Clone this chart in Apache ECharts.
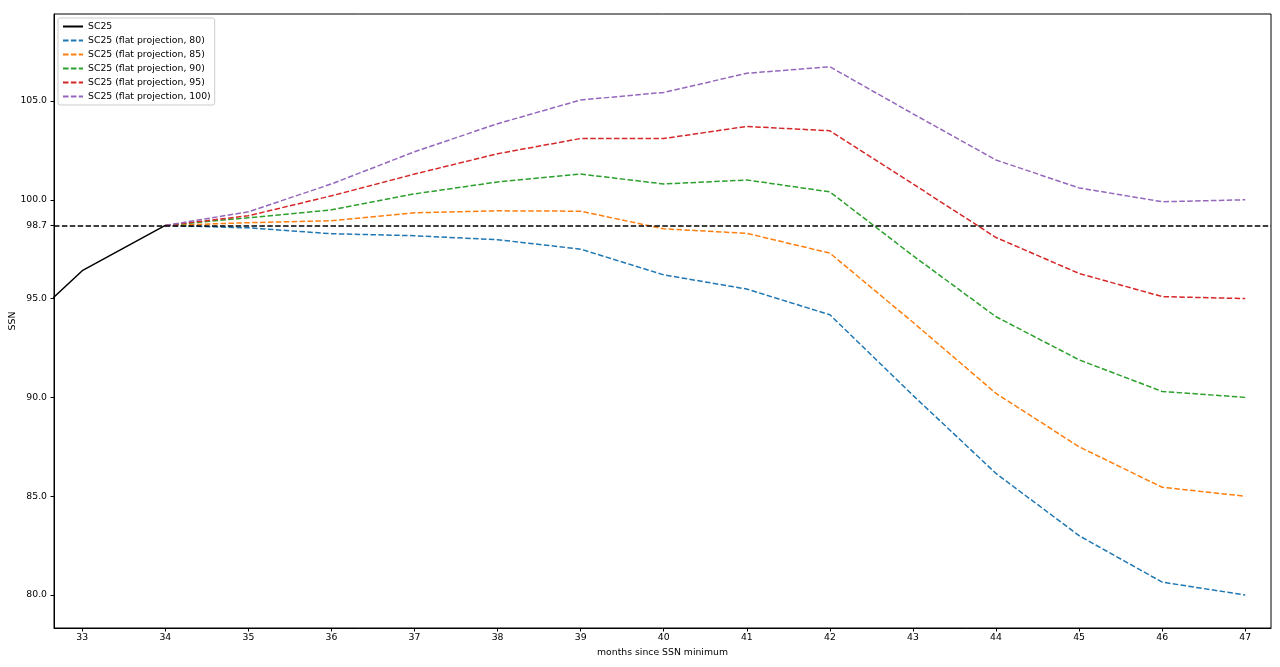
<!DOCTYPE html>
<html>
<head>
<meta charset="utf-8">
<script src="https://cdn.jsdelivr.net/npm/echarts@6/dist/echarts.min.js"></script>
<style>html,body{margin:0;padding:0;background:#fff}#c{width:1280px;height:667px}</style>
</head>
<body>
<div id="c"></div>
<script>
const sc25Months = [32, 33, 34];
const sc25Values = [92.5, 96.41, 98.7];
const projMonths = [34, 35, 36, 37, 38, 39, 40, 41, 42, 43, 44, 45, 46, 47];
const proj80  = [98.7, 98.58, 98.28, 98.18, 97.98, 97.5, 96.2, 95.48, 94.18, 90.1, 86.15, 83.0, 80.65, 80.0];
const proj85  = [98.7, 98.84, 98.94, 99.34, 99.44, 99.42, 98.53, 98.3, 97.3, 93.8, 90.2, 87.5, 85.45, 85.0];
const proj90  = [98.7, 99.09, 99.49, 100.3, 100.9, 101.3, 100.8, 101.0, 100.4, 97.17, 94.08, 91.9, 90.3, 90.0];
const proj95  = [98.7, 99.19, 100.2, 101.3, 102.33, 103.1, 103.1, 103.71, 103.49, 100.8, 98.09, 96.27, 95.1, 95.0];
const proj100 = [98.7, 99.39, 100.8, 102.43, 103.85, 105.05, 105.43, 106.4, 106.73, 104.35, 102.01, 100.6, 99.9, 100.0];
const refLevel = 98.7;
const xTicks = [33, 34, 35, 36, 37, 38, 39, 40, 41, 42, 43, 44, 45, 46, 47];
const yTicks = [80, 85, 90, 95, 98.7, 100, 105];
const projNames = ['SC25 (flat projection, 80)', 'SC25 (flat projection, 85)', 'SC25 (flat projection, 90)', 'SC25 (flat projection, 95)', 'SC25 (flat projection, 100)'];
const projData = [proj80, proj85, proj90, proj95, proj100];
const colors = ['#1f77b4', '#ff7f0e', '#2ca02c', '#d62728', '#9467bd'];

const font = 'DejaVu Sans';
const fs = 9.3;
const chart = echarts.init(document.getElementById('c'));
const zip = (xs, ys) => xs.map((x, i) => [x, ys[i]]);

const series = [{
  name: 'SC25', type: 'line', data: zip(sc25Months, sc25Values),
  showSymbol: false, symbol: 'none', color: '#000',
  lineStyle: { color: '#000', width: 1.5 }, clip: true, animation: false,
  markLine: {
    silent: true, symbol: 'none', label: { show: false },
    lineStyle: { color: '#000', type: [5.5, 2.4], width: 1.5 },
    data: [{ yAxis: refLevel }], animation: false
  }
}];
projData.forEach((d, i) => {
  series.push({
    name: projNames[i], type: 'line', data: zip(projMonths, d),
    showSymbol: false, symbol: 'none', color: colors[i],
    lineStyle: { color: colors[i], width: 1.5, type: [5.5, 2.4] },
    clip: true, animation: false
  });
});

chart.setOption({
  animation: false,
  grid: { left: 54, right: 9, top: 14, bottom: 39, containLabel: false, outerBoundsMode: 'none',
    show: true, borderColor: '#000', borderWidth: 1, backgroundColor: 'transparent' },
  legend: {
    orient: 'vertical', left: 58, top: 18,
    data: ['SC25'].concat(projNames),
    itemWidth: 20, itemHeight: 10, itemGap: 5,
    padding: [4, 4, 4, 4],
    backgroundColor: 'rgba(255,255,255,0.8)',
    borderColor: '#cccccc', borderWidth: 1, borderRadius: 2,
    itemStyle: { opacity: 0, borderWidth: 0 },
    textStyle: { fontFamily: font, fontSize: fs, color: '#000' }
  },
  xAxis: {
    type: 'value', min: 32.66, max: 47.31,
    name: 'months since SSN minimum', nameLocation: 'middle', nameGap: 20, nameMoveOverlap: false,
    nameTextStyle: { fontFamily: font, fontSize: fs, color: '#000' },
    axisLine: { onZero: false, lineStyle: { color: '#000', width: 1 } },
    axisTick: { show: true, length: 3.5, customValues: xTicks, lineStyle: { color: '#000' } },
    axisLabel: { customValues: xTicks, fontFamily: font, fontSize: fs, color: '#000', margin: 5 },
    splitLine: { show: false }
  },
  yAxis: {
    type: 'value', min: 78.33, max: 109.4,
    name: 'SSN', nameLocation: 'middle', nameGap: 37, nameMoveOverlap: false,
    nameTextStyle: { fontFamily: font, fontSize: fs, color: '#000' },
    axisLine: { show: true, onZero: false, lineStyle: { color: '#000', width: 1 } },
    axisTick: { show: true, length: 3.5, customValues: yTicks, lineStyle: { color: '#000' } },
    axisLabel: { customValues: yTicks, fontFamily: font, fontSize: fs, color: '#000', margin: 7,
      formatter: v => Number(v).toFixed(1) },
    splitLine: { show: false }
  },
  series: series
});
</script>
</body>
</html>
